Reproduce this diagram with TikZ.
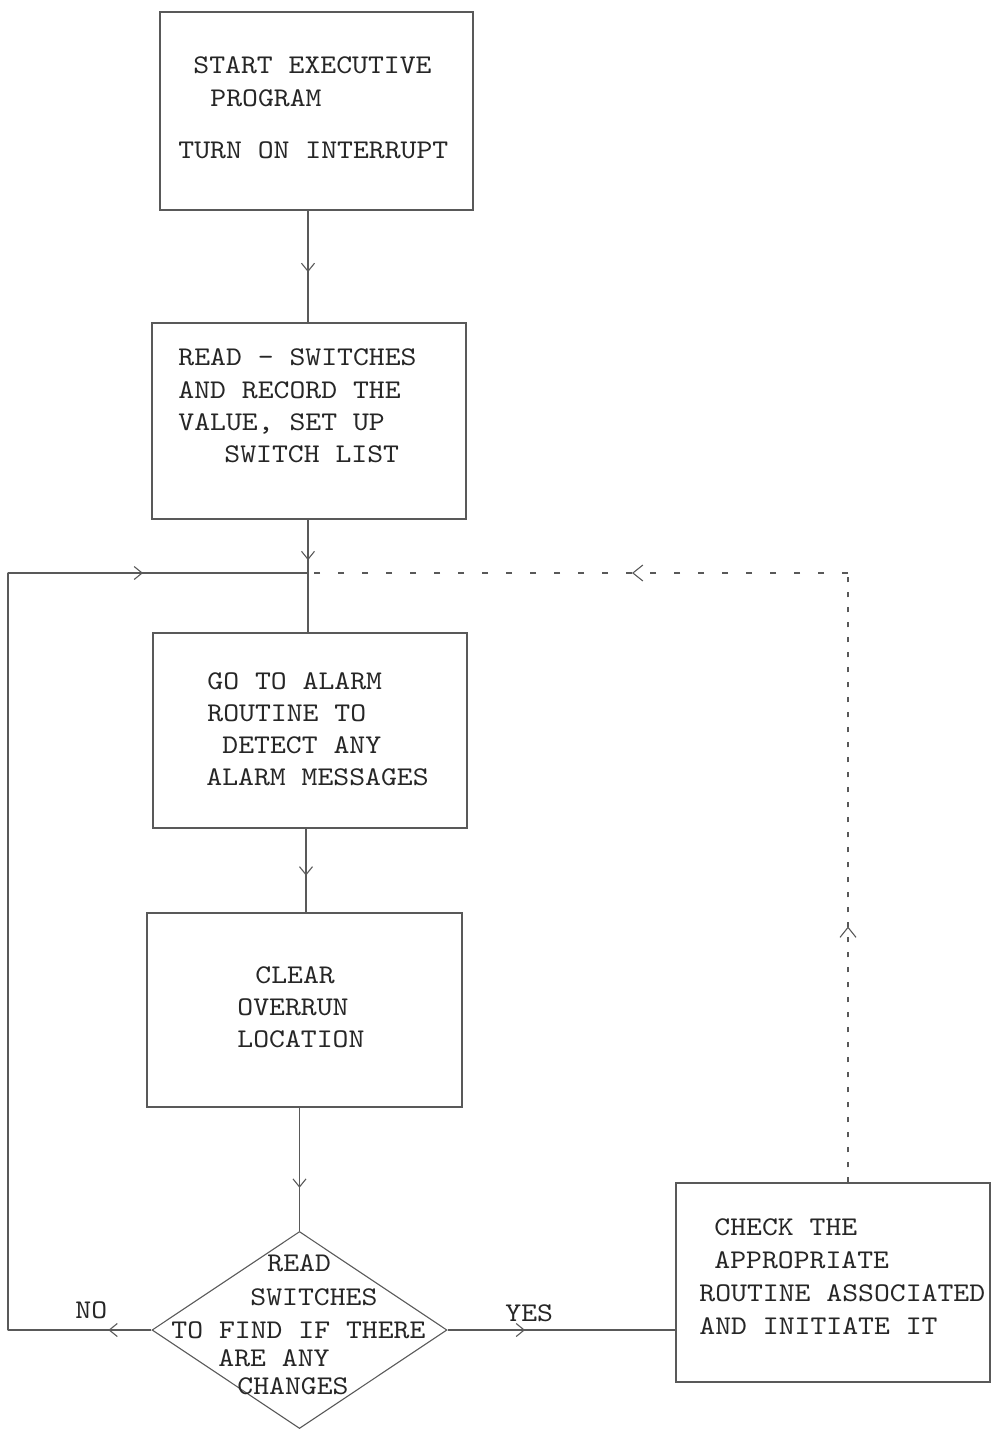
\documentclass[tikz,border=0pt]{standalone}
\usepackage{fontspec}
\newfontfamily\tw[FakeStretch=1.12]{lmmono10-regular.otf}
\usetikzlibrary{shapes.geometric,arrows.meta,decorations.markings}
\begin{document}
\begin{tikzpicture}[x=0.5pt,y=-0.5pt,
 ln/.style={draw=black!65,line width=0.55pt},
 box/.style={ln,rectangle,inner sep=0},
 txt/.style={font=\tw\fontsize{13.5}{16}\selectfont,inner sep=0,anchor=base west,text=black!85},
 midarrow/.style={postaction={decorate},decoration={markings,mark=at position #1 with {\arrow{Straight Barb[length=4pt,width=6.5pt,line width=0.55pt]}}}},
 bigarrow/.style={postaction={decorate},decoration={markings,mark=at position #1 with {\arrow[solid]{Straight Barb[length=5pt,width=8pt,line width=0.55pt]}}}},
 dsh/.style={dash pattern=on 3pt off 9pt},
 dshdot/.style={dash pattern=on 2.5pt off 5pt},
]
\useasboundingbox (0,0) rectangle (993,1429);

% boxes
\node[box,minimum width=156.5pt,minimum height=99pt] (b1) at (316.5,111) {};
\node[box,minimum width=157pt,minimum height=98pt] (b2) at (309,421) {};
\node[box,minimum width=157pt,minimum height=97.5pt] (b3) at (310,730.5) {};
\node[box,minimum width=157.5pt,minimum height=97pt] (b4) at (304.5,1010) {};
\node[ln,diamond,inner sep=0,minimum width=147.5pt,minimum height=98.5pt] (d) at (299.5,1330) {};
\node[box,minimum width=157pt,minimum height=99.5pt] (b5) at (833,1282.5) {};

% coordinates
\coordinate (j) at (308,573);
\coordinate (nl) at (8,1330);
\coordinate (tl) at (8,573);
\coordinate (dr) at (848,573);

% texts
\node[txt] (t1a) at (193,74) {START EXECUTIVE};
\node[txt] (t1b) at (210,107) {PROGRAM};
\node[txt] (t1c) at (178,158) {TURN ON INTERRUPT};

\node[txt] (t2a) at (178,365) {READ - SWITCHES};
\node[txt] (t2b) at (178,398) {AND RECORD THE};
\node[txt] (t2c) at (178,430) {VALUE, SET UP};
\node[txt] (t2d) at (224,462) {SWITCH LIST};

\node[txt] (t3a) at (207,689) {GO TO ALARM};
\node[txt] (t3b) at (207,721) {ROUTINE TO};
\node[txt] (t3c) at (222,753) {DETECT ANY};
\node[txt] (t3d) at (206,785) {ALARM MESSAGES};

\node[txt] (t4a) at (255,983) {CLEAR};
\node[txt] (t4b) at (237,1015) {OVERRUN};
\node[txt] (t4c) at (237,1047) {LOCATION};

\node[txt] (tda) at (267,1271) {READ};
\node[txt] (tdb) at (250,1305) {SWITCHES};
\node[txt] (tdc) at (171,1338) {TO FIND IF THERE};
\node[txt] (tdd) at (218,1366) {ARE ANY};
\node[txt] (tde) at (237,1394) {CHANGES};

\node[txt] (t5a) at (714,1235) {CHECK THE};
\node[txt] (t5b) at (714,1268) {APPROPRIATE};
\node[txt] (t5c) at (699,1301) {ROUTINE ASSOCIATED};
\node[txt] (t5d) at (699,1334) {AND INITIATE IT};

\node[txt] (no) at (75,1318) {NO};
\node[txt] (yes) at (505,1321) {YES};

% connectors
\draw[ln,midarrow=0.55] (b1.south -| j) -- (b2.north -| j);
\draw[ln,midarrow=0.76] (b2.south -| j) -- (j);
\draw[ln] (j) -- (b3.north -| j);
\draw[ln,midarrow=0.56] (b3.south -| 306,0) -- (b4.north -| 306,0);
\draw[ln,midarrow=0.65] (b4.south -| d.north) -- (d.north);

\draw[ln,midarrow=0.3] (d.west) -- (nl);
\draw[ln,line cap=round] (nl) -- (tl);
\draw[ln,midarrow=0.45] (tl) -- (j);

\draw[ln,midarrow=0.34] (d.east) -- (d.east -| b5.west);

\draw[ln,dshdot,bigarrow=0.42] (b5.north -| dr) -- (dr);
\draw[ln,dsh,bigarrow=0.40] (dr) -- (j);
\end{tikzpicture}
\end{document}
